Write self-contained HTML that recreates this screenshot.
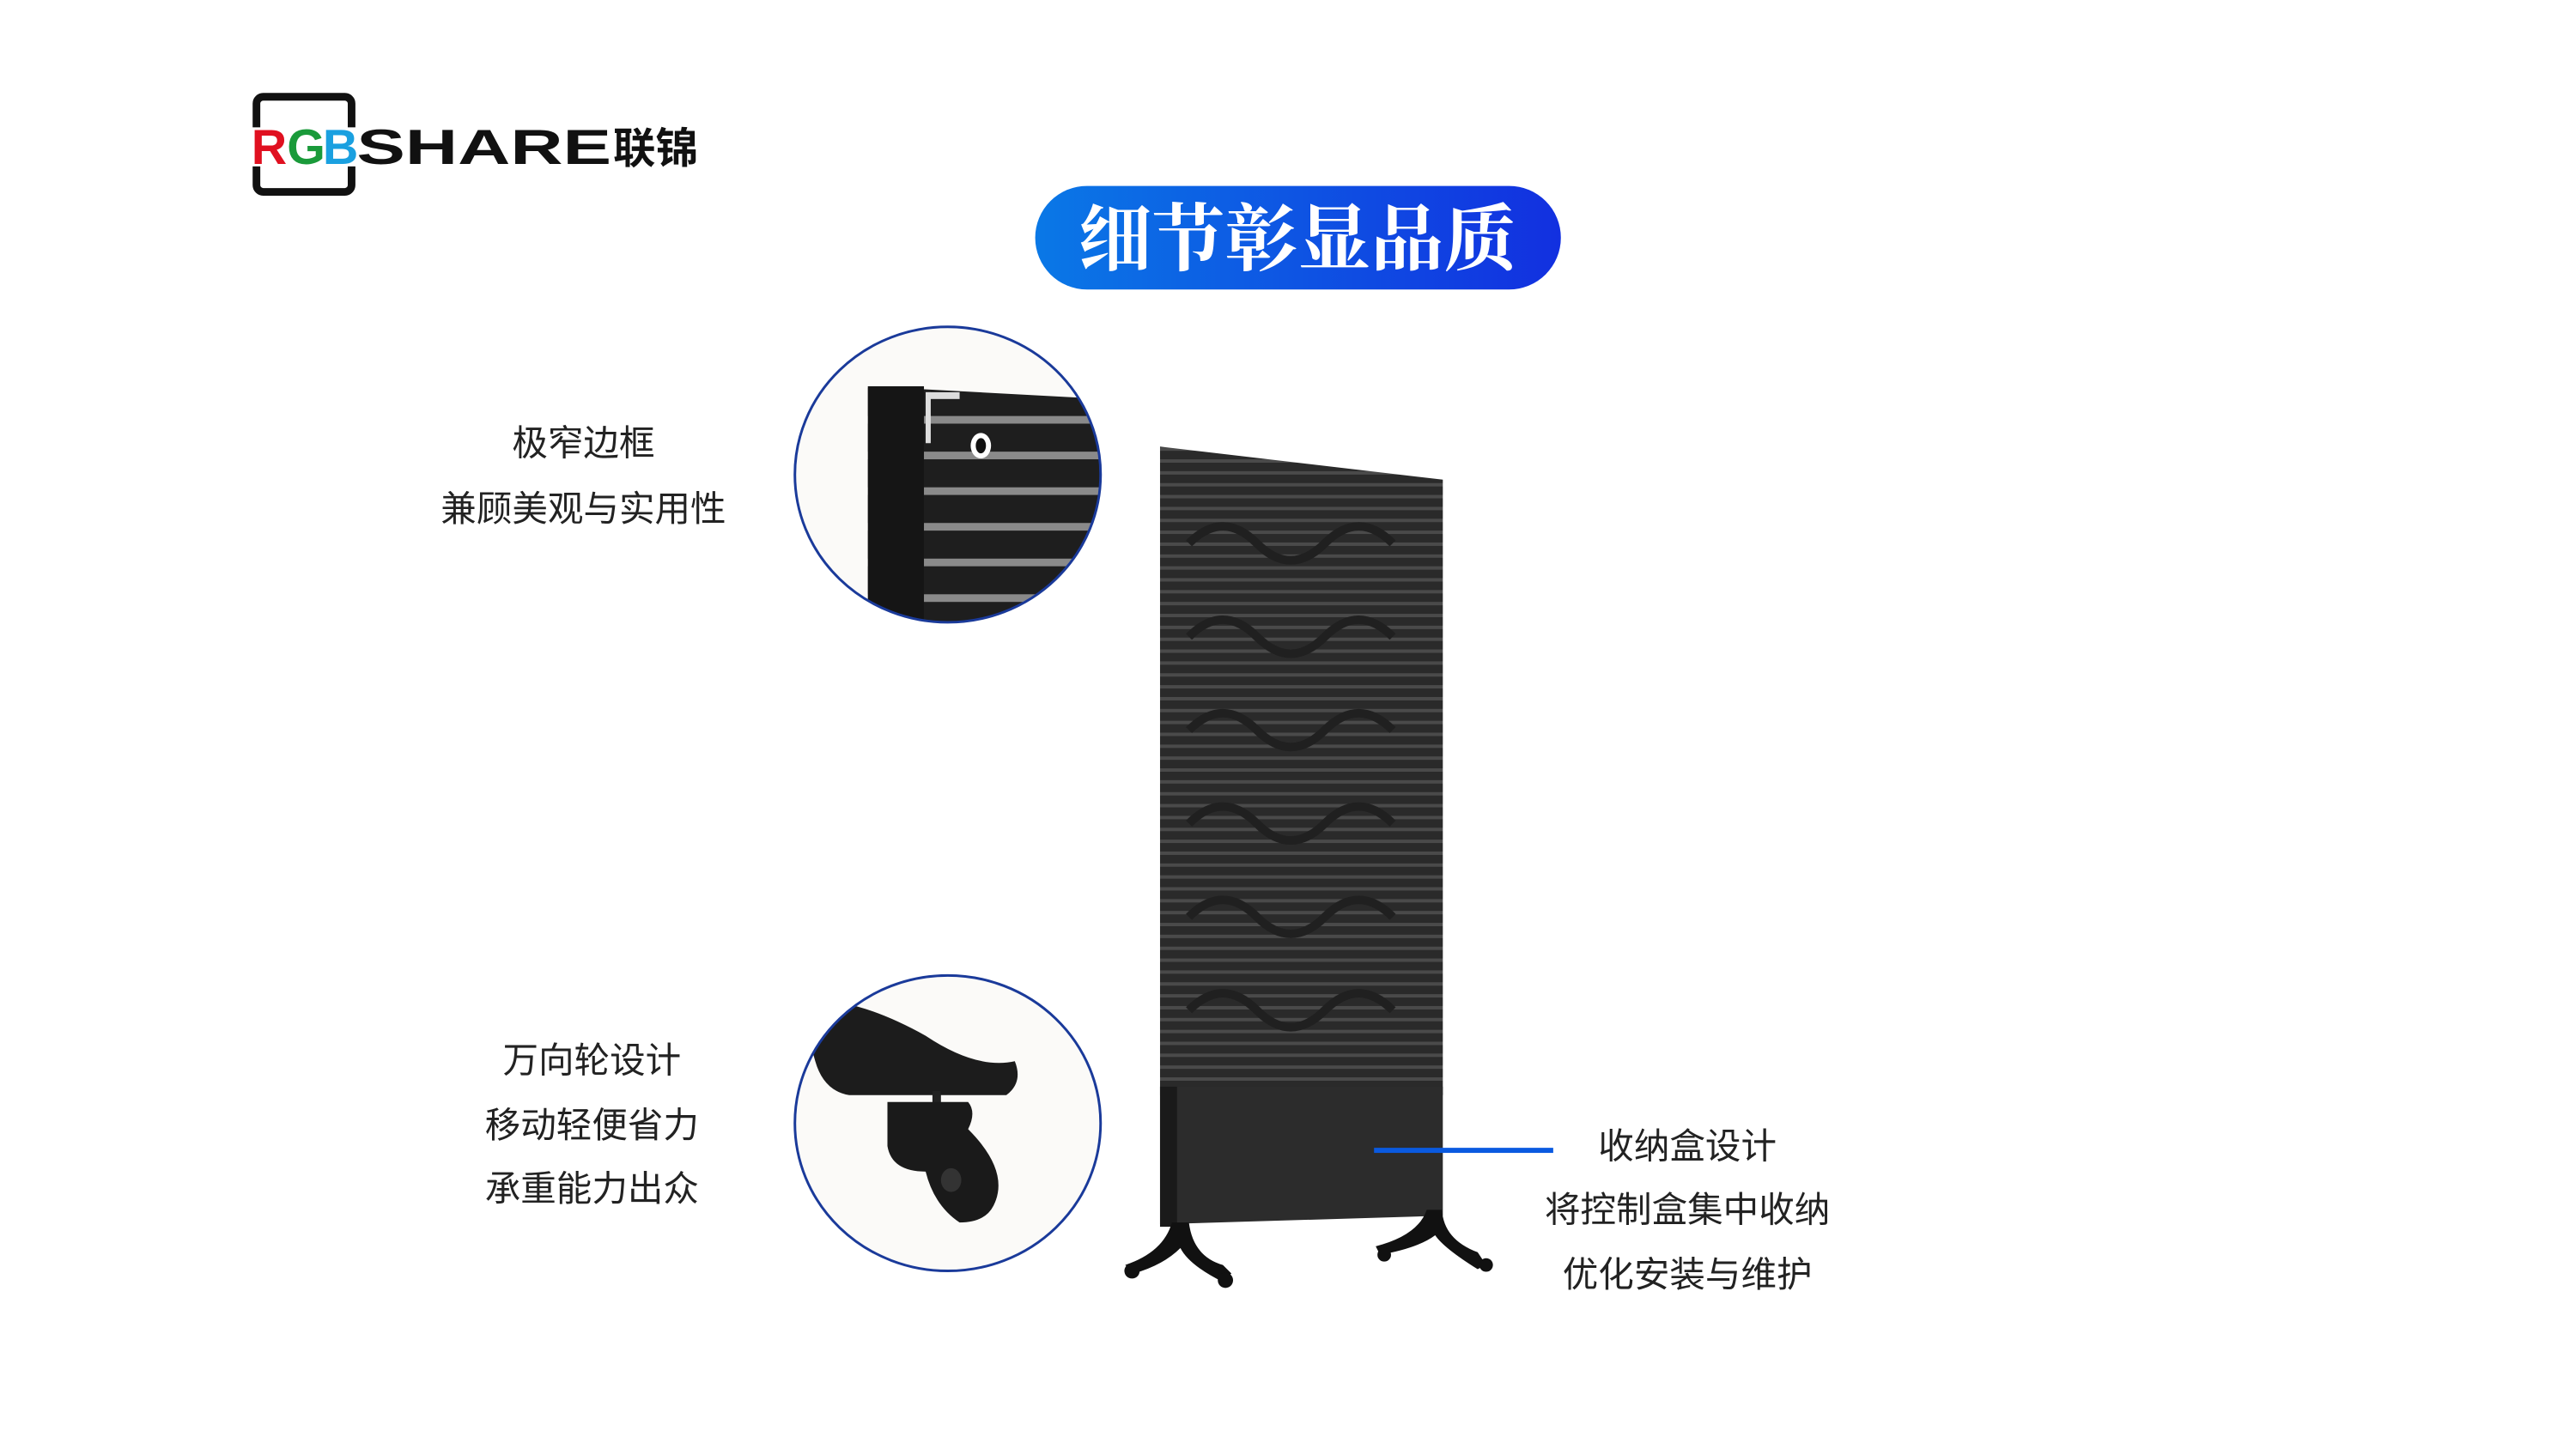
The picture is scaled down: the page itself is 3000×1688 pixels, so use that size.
<!DOCTYPE html>
<html><head><meta charset="utf-8"><style>
body{margin:0;width:3000px;height:1688px;background:#fff;position:relative;overflow:hidden;font-family:"Liberation Sans","Noto Sans CJK SC",sans-serif}
#w{position:absolute;left:0;top:0;width:3000px;height:1688px;transform:scale(0.989);transform-origin:0 0}
.t{position:absolute;font-size:42px;color:#222;text-align:center;white-space:nowrap;transform:translate(-50%,-50%)}
</style></head><body><div id="w">
<svg width="3000" height="1688" style="position:absolute;left:0;top:0">
<defs>
<linearGradient id="g" x1="0" x2="1"><stop offset="0" stop-color="#0a78e6"/><stop offset="1" stop-color="#1230e0"/></linearGradient>
<pattern id="st" width="10" height="14" patternUnits="userSpaceOnUse"><rect width="10" height="14" fill="#2a2a2a"/><rect y="9" width="10" height="4" fill="#4a4a4a"/></pattern>
<pattern id="st2" width="10" height="42" patternUnits="userSpaceOnUse"><rect width="10" height="42" fill="#1e1e1e"/><rect y="28" width="10" height="9" fill="#8a8a8a"/></pattern>
<clipPath id="c1"><ellipse cx="1116" cy="559" rx="180" ry="174"/></clipPath>
<clipPath id="c2"><ellipse cx="1116" cy="1323" rx="180" ry="174"/></clipPath>
</defs>
<rect x="302" y="114" width="112" height="112" rx="8" fill="none" stroke="#111" stroke-width="9"/>
<rect x="290" y="150" width="140" height="46" fill="#fff"/>
<text x="296" y="193" font-family="Liberation Sans" font-weight="bold" font-size="58" fill="#e01020">R</text>
<text x="338" y="193" font-family="Liberation Sans" font-weight="bold" font-size="58" fill="#1a9a3a">G</text>
<text x="380" y="193" font-family="Liberation Sans" font-weight="bold" font-size="58" fill="#1aa0e0">B</text>
<text x="420" y="193" font-family="Liberation Sans" font-weight="bold" font-size="58" fill="#111" textLength="300" lengthAdjust="spacingAndGlyphs">SHARE</text>
<text x="722" y="192" font-family="Noto Sans CJK SC" font-weight="bold" font-size="50" fill="#111">联锦</text>
<rect x="1219" y="219" width="619" height="122" rx="61" fill="url(#g)"/>
<text x="1528" y="312" text-anchor="middle" font-family="Noto Serif CJK SC,serif" font-weight="bold" font-size="86" fill="#fff">细节彰显品质</text>
<ellipse cx="1116" cy="559" rx="180" ry="174" fill="#fbfaf8"/>
<g clip-path="url(#c1)">
<polygon points="1022,455 1300,470 1300,740 1022,740" fill="url(#st2)"/>
<rect x="1022" y="455" width="66" height="290" fill="#151515"/>
<rect x="1090" y="462" width="40" height="8" fill="#ddd"/><rect x="1090" y="462" width="6" height="60" fill="#ddd"/>
<ellipse cx="1155" cy="525" rx="12" ry="15" fill="#fff"/><ellipse cx="1155" cy="525" rx="6" ry="9" fill="#111"/>
</g>
<ellipse cx="1116" cy="559" rx="180" ry="174" fill="none" stroke="#1a3a9a" stroke-width="3"/>
<ellipse cx="1116" cy="1323" rx="180" ry="174" fill="#fbfaf8"/>
<g clip-path="url(#c2)">
<path d="M940,1180 Q1000,1170 1090,1220 Q1150,1260 1195,1250 Q1205,1275 1185,1290 L1000,1290 Q970,1285 960,1250 Z" fill="#1c1c1c"/>
<rect x="1098" y="1285" width="10" height="20" fill="#222"/>
<path d="M1045,1298 L1140,1298 Q1150,1310 1140,1330 Q1190,1380 1170,1420 Q1160,1440 1130,1440 Q1100,1420 1090,1380 Q1050,1380 1045,1350 Z" fill="#1a1a1a"/>
<ellipse cx="1120" cy="1390" rx="12" ry="14" fill="#333"/>
</g>
<ellipse cx="1116" cy="1323" rx="180" ry="174" fill="none" stroke="#1a3a9a" stroke-width="3"/>
<polygon points="1366,526 1699,565 1699,1290 1366,1290" fill="url(#st)"/>
<g fill="none" stroke="#202020" stroke-width="10">
<path d="M1400,640 q40,-40 80,0 t80,0 t80,0"/><path d="M1400,750 q40,-40 80,0 t80,0 t80,0"/><path d="M1400,860 q40,-40 80,0 t80,0 t80,0"/><path d="M1400,970 q40,-40 80,0 t80,0 t80,0"/><path d="M1400,1080 q40,-40 80,0 t80,0 t80,0"/><path d="M1400,1190 q40,-40 80,0 t80,0 t80,0"/>
</g>
<polygon points="1366,1280 1699,1280 1699,1432 1366,1442" fill="#2c2c2c"/>
<rect x="1366" y="1280" width="20" height="165" fill="#1a1a1a"/>
<g fill="#111">
<path d="M1380,1440 L1400,1440 Q1405,1480 1440,1490 L1450,1500 L1440,1510 Q1400,1490 1390,1470 Q1370,1490 1335,1500 L1325,1490 Q1370,1475 1380,1440 Z"/>
<path d="M1680,1425 L1698,1425 Q1700,1460 1740,1475 L1750,1490 L1740,1495 Q1700,1470 1690,1455 Q1670,1470 1625,1478 L1620,1468 Q1670,1455 1680,1425 Z"/>
<circle cx="1333" cy="1497" r="9"/><circle cx="1443" cy="1508" r="9"/><circle cx="1630" cy="1478" r="8"/><circle cx="1750" cy="1490" r="8"/>
</g>
<rect x="1618" y="1352" width="211" height="6" fill="#0a5ae0"/>
</svg>
<div class="t" style="left:687px;top:519px">极窄边框</div>
<div class="t" style="left:687px;top:596px">兼顾美观与实用性</div>
<div class="t" style="left:697px;top:1246px">万向轮设计</div>
<div class="t" style="left:697px;top:1322px">移动轻便省力</div>
<div class="t" style="left:697px;top:1397px">承重能力出众</div>
<div class="t" style="left:1987px;top:1347px">收纳盒设计</div>
<div class="t" style="left:1987px;top:1422px">将控制盒集中收纳</div>
<div class="t" style="left:1987px;top:1498px">优化安装与维护</div>
</div></body></html>
